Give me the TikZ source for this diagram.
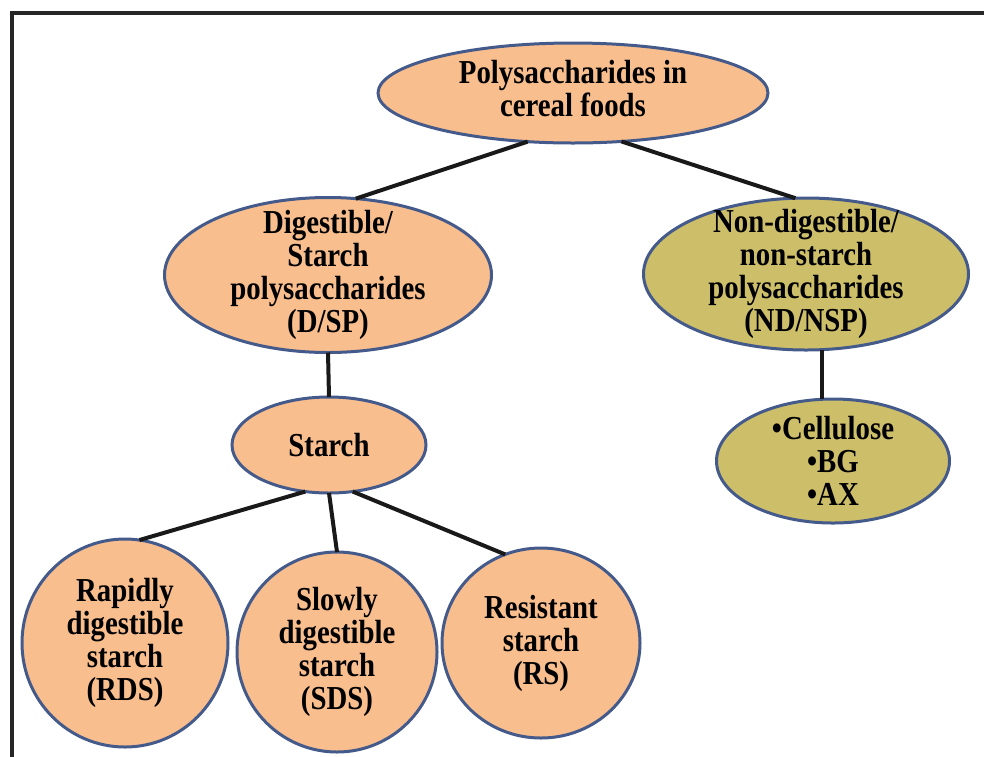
\documentclass[tikz,border=0pt]{standalone}
\usepackage{fontspec}
\setmainfont{Liberation Serif}[FakeStretch=0.86]
\usetikzlibrary{shapes.geometric}
\definecolor{spfill}{RGB}{249,190,142}
\definecolor{nspfill}{RGB}{205,190,106}
\definecolor{rim}{RGB}{68,90,138}

\begin{document}
\begin{tikzpicture}[x=1pt,y=-1pt,
  blob/.style={ellipse,draw=rim,line width=3pt,fill=spfill,inner sep=0pt,outer sep=0pt},
  nspblob/.style={blob,fill=nspfill},
  link/.style={line width=4pt,black!90}]
\tikzset{every label/.style={align=center,font=\bfseries\fontsize{33.5}{33}\selectfont}}
\clip (0,0) rectangle (984,756);
\draw[line width=4.5pt,black!85] (12,13) rectangle (1020,800);

\node[blob,minimum width=390pt,minimum height=100pt,label={[yshift=4pt]center:{Polysaccharides in\\cereal foods}}] (poly) at (573,93) {};
\node[blob,minimum width=327pt,minimum height=155pt,label=center:{Digestible/\\Starch\\polysaccharides\\(D/SP)}] (dsp) at (328,275) {};
\node[nspblob,minimum width=325pt,minimum height=152pt,label=center:{Non-digestible/\\non-starch\\polysaccharides\\(ND/NSP)}] (nsp) at (806,274) {};
\node[blob,minimum width=194pt,minimum height=96pt,label=center:{Starch}] (starch) at (329,445) {};
\node[nspblob,minimum width=233pt,minimum height=124pt,label=center:{•Cellulose\\•BG\\•AX}] (fibre) at (833,461) {};
\node[blob,minimum width=206pt,minimum height=208pt,label=center:{Rapidly\\digestible\\starch\\(RDS)}] (rds) at (125,643) {};
\node[blob,minimum width=200pt,minimum height=200pt,label=center:{Slowly\\digestible\\starch\\(SDS)}] (sds) at (337,652) {};
\node[blob,minimum width=198pt,minimum height=190pt,label=center:{Resistant\\starch\\(RS)}] (rs) at (541,643) {};

% tree links
\draw[link] (poly.227) -- (dsp.70);
\draw[link] (poly.315) -- (nsp.98);
\draw[link] (dsp.south) -- (starch.north);
\draw[link] (nsp.-78) -- (nsp.-78 |- fibre.north);
\draw[link] (starch.243) -- (rds.82);
\draw[link] (starch.south) -- (sds.north);
\draw[link] (starch.297) -- (rs.112);
\end{tikzpicture}
\end{document}
